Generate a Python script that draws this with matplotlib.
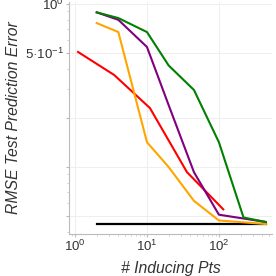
import numpy as np
import matplotlib
matplotlib.use("Agg")
import matplotlib.pyplot as plt
from matplotlib.ticker import FixedLocator, FixedFormatter, NullFormatter, LogLocator

plt.rcParams['font.family'] = ['Liberation Sans', 'DejaVu Sans']
plt.rcParams['mathtext.fontset'] = 'custom'
plt.rcParams['mathtext.rm'] = 'Liberation Sans'
plt.rcParams['mathtext.it'] = 'Liberation Sans:italic'

# Werte
x_green = [2, 4, 10, 20, 45, 100, 220, 450]
y_green = [0.889, 0.82, 0.673, 0.42, 0.297, 0.142, 0.049, 0.046]

x_purple = [2, 4, 10, 20, 45, 100, 450]
y_purple = [0.889, 0.80, 0.545, 0.24, 0.093, 0.051, 0.046]

x_orange = [2, 4, 10, 20, 45, 100, 450]
y_orange = [0.764, 0.673, 0.142, 0.10, 0.062, 0.047, 0.0447]

x_red = [1.1, 3.5, 11, 36, 115]
y_red = [0.508, 0.367, 0.230, 0.093, 0.055]

x_black = [2, 450]
y_black = [0.0447, 0.0447]

fig = plt.figure(figsize=(2.76, 2.76), dpi=100)
ax = fig.add_axes([0.25, 0.152, 0.735, 0.841])

ax.plot(x_black, y_black, color='black', lw=1.6)
ax.plot(x_red, y_red, color='red', lw=1.5)
ax.plot(x_orange, y_orange, color='orange', lw=1.5)
ax.plot(x_purple, y_purple, color='purple', lw=1.5)
ax.plot(x_green, y_green, color='green', lw=1.5)

ax.set_xscale('log')
ax.set_yscale('log')
ax.set_xlim(0.824, 545)
ax.set_ylim(0.0388, 1.03)

ax.xaxis.set_major_locator(FixedLocator([1, 10, 100]))
ax.xaxis.set_major_formatter(FixedFormatter(['10$^0$', '10$^1$', '10$^2$']))
ax.xaxis.set_minor_locator(LogLocator(base=10, subs=np.arange(2, 10)))
ax.xaxis.set_minor_formatter(NullFormatter())

ax.yaxis.set_major_locator(FixedLocator([0.05, 0.1, 0.2, 0.5, 1.0]))
ax.yaxis.set_major_formatter(FixedFormatter(['', '', '', '5·10$^{-1}$', '10$^0$']))
ax.yaxis.set_minor_locator(LogLocator(base=10, subs=np.arange(2, 10)))
ax.yaxis.set_minor_formatter(NullFormatter())

ax.grid(True, which='major', color='#eeeeee', lw=0.7)
for s in ['top', 'right']:
    ax.spines[s].set_visible(False)
for s in ['left', 'bottom']:
    ax.spines[s].set_color('#bbbbbb')
    ax.spines[s].set_linewidth(0.8)
ax.tick_params(which='major', length=2, color='#bbbbbb', labelsize=9.5, labelcolor='#333333', pad=1.5)
ax.tick_params(which='minor', length=1.5, color='#cccccc')

ax.set_xlabel('# Inducing Pts', fontsize=11.3, style='italic', color='#333333', labelpad=5)
ax.set_ylabel('RMSE Test Prediction Error', fontsize=11.3, style='italic', color='#333333', labelpad=3)

fig.savefig('out.png', dpi=100)
